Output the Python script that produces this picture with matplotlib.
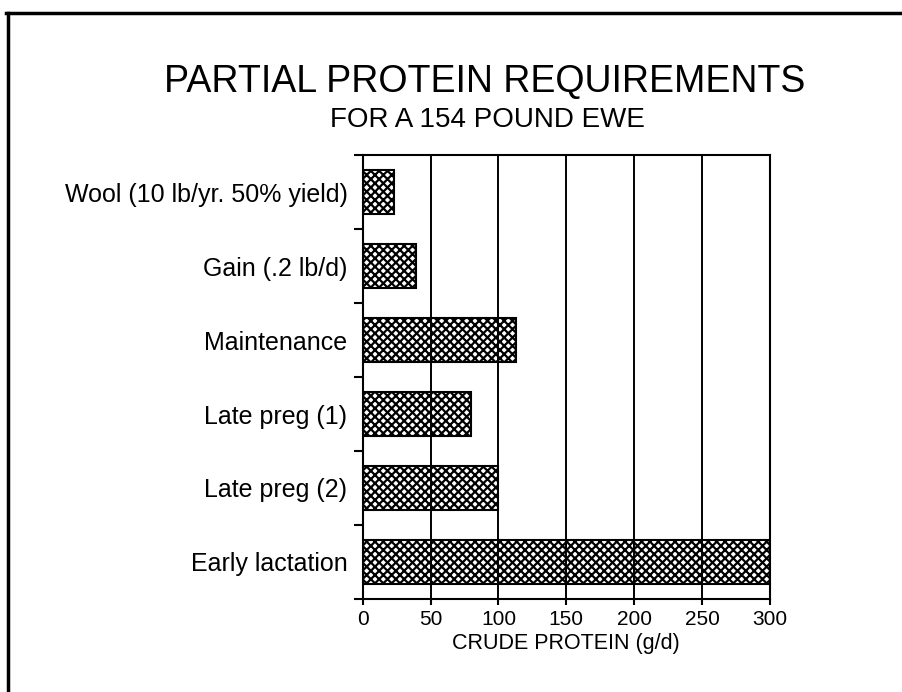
import matplotlib
matplotlib.use("Agg")
import matplotlib.pyplot as plt
from matplotlib.lines import Line2D
import numpy as np

# Data
categories = ['Wool (10 lb/yr. 50% yield)', 'Gain (.2 lb/d)', 'Maintenance',
              'Late preg (1)', 'Late preg (2)', 'Early lactation']
protein = [23, 39, 113, 80, 100, 300]
xticks = [0, 50, 100, 150, 200, 250, 300]

plt.rcParams['font.family'] = ['Liberation Sans', 'DejaVu Sans']
plt.rcParams['hatch.linewidth'] = 1.6

fig = plt.figure(figsize=(9.03, 6.92), dpi=100)
ax = fig.add_axes([0.4017, 0.1344, 0.4510, 0.6416])

ypos = np.arange(len(categories))
ax.barh(ypos, protein, height=0.6, color='white', edgecolor='black',
        hatch='xxxx', linewidth=1.5, zorder=2)

ax.set_xlim(0, 300)
ax.set_ylim(len(categories) - 0.5, -0.5)

# vertical grid drawn over the bars
ax.set_xticks(xticks)
ax.xaxis.grid(True, color='black', linewidth=1.4)
ax.set_axisbelow(False)
ax.tick_params(axis='x', direction='out', length=4, width=1.5,
               labelsize=15, pad=4)

ax.set_yticks(ypos)
ax.set_yticklabels(categories, fontsize=18)
ax.tick_params(axis='y', which='major', length=0, pad=11)
ax.set_yticks(np.arange(-0.5, len(categories), 1), minor=True)
ax.tick_params(axis='y', which='minor', direction='out', length=6.5, width=1.5)

for s in ax.spines.values():
    s.set_linewidth(1.5)

ax.set_xlabel('CRUDE PROTEIN (g/d)', fontsize=15.5, labelpad=3)

fig.text(0.537, 0.8675, 'PARTIAL PROTEIN REQUIREMENTS', fontsize=27,
         ha='center', va='baseline')
fig.text(0.54, 0.816, 'FOR A 154 POUND EWE', fontsize=20,
         ha='center', va='baseline')

# page border (top and left)
fig.add_artist(Line2D([0.007, 1.0], [0.981, 0.981], color='black', linewidth=2.5))
fig.add_artist(Line2D([0.009, 0.009], [0.0, 0.981], color='black', linewidth=2.5))

fig.savefig('out.png', dpi=100)
